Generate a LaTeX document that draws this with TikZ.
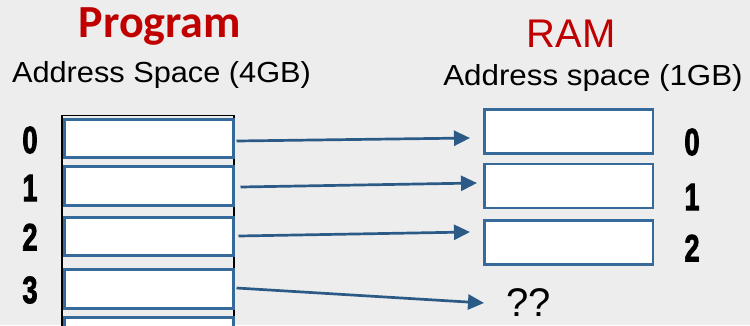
\documentclass[tikz,border=0pt]{standalone}
\usepackage{fontspec}
\setmainfont{Liberation Sans}
\newfontfamily\calibri{Carlito}
\newfontfamily\heavydigits[FakeBold=2.5]{Liberation Sans Bold}
\usetikzlibrary{arrows.meta}
\definecolor{bg}{HTML}{EDEDED}
\definecolor{boxblue}{HTML}{356A9A}
\definecolor{arrblue}{HTML}{2B5A87}
\definecolor{titlered}{HTML}{C00000}
\tikzset{
  lbox/.style={draw=boxblue, line width=3pt, fill=white, minimum width=169pt, minimum height=38.5pt, inner sep=0pt},
  rbox/.style={draw=boxblue, line width=2.5pt, fill=white, minimum width=168.5pt, minimum height=44pt, inner sep=0pt},
  digit/.style={inner sep=0pt, font=\heavydigits\fontsize{38}{38}\selectfont},
  maparrow/.style={draw=arrblue, line width=2.7pt, -{Triangle[length=16pt,width=15pt]}},
  addr/.style={anchor=base, inner sep=0pt, font=\fontsize{29}{29}\selectfont}
}
\newcommand{\narrowdigit}[1]{\scalebox{0.72}[1]{#1}}
\begin{document}
\begin{tikzpicture}[x=1pt,y=-1pt]
\useasboundingbox (0,0) rectangle (750,325);
\fill[bg] (0,0) rectangle (750,325);
\begin{scope}
\clip (0,0) rectangle (750,325);
% titles
\node[anchor=base, inner sep=0pt, text=titlered, font=\calibri\bfseries\fontsize{46}{46}\selectfont] (ptitle) at (160,37) {Program};
\node[addr] (paddr) at (161.5,82) {\scalebox{1.06}[1]{Address Space (4GB)}};
\node[anchor=base, inner sep=0pt, text=titlered, font=\fontsize{40}{40}\selectfont] (rtitle) at (571,47) {RAM};
\node[addr] (raddr) at (593,85) {\scalebox{1.08}[1]{Address space (1GB)}};
% program outline
\draw[black, line width=1.5pt] (62,115.5) rectangle (234,345);
% program boxes
\node[lbox] (l0) at (149,138.5) {};
\node[lbox] (l1) at (149,186) {};
\node[lbox] (l2) at (149,236.5) {};
\node[lbox] (l3) at (149,289) {};
\node[lbox] (l4) at (149,337) {};
% ram boxes
\node[rbox] (r0) at (568.5,131.5) {};
\node[rbox] (r1) at (568.5,186) {};
\node[rbox] (r2) at (568.5,242.5) {};
% digits
\node[digit] (d0) at (30,140) {\narrowdigit{0}};
\node[digit] (d1) at (30,188) {\narrowdigit{1}};
\node[digit] (d2) at (30,237) {\narrowdigit{2}};
\node[digit] (d3) at (30,290) {\narrowdigit{3}};
\node[digit] (e0) at (692,142) {\narrowdigit{0}};
\node[digit] (e1) at (692,197) {\narrowdigit{1}};
\node[digit] (e2) at (692,248) {\narrowdigit{2}};
% unknown
\node[inner sep=0pt, font=\fontsize{40}{40}\selectfont] (qq) at (529,303) {??};
% arrow ends
\coordinate (t0) at (470,138);
\coordinate (t1) at (477,183);
\coordinate (t2) at (470,232);
\coordinate (t3) at (484,303);
\draw[maparrow] ([shift={(1.5,2.5)}]l0.east) -- (t0);
\draw[maparrow] ([shift={(5.5,1)}]l1.east) -- (t1);
\draw[maparrow] ([shift={(3.5,-0.5)}]l2.east) -- (t2);
\draw[maparrow] ([shift={(1.5,-1)}]l3.east) -- (t3);
\end{scope}
\end{tikzpicture}
\end{document}
